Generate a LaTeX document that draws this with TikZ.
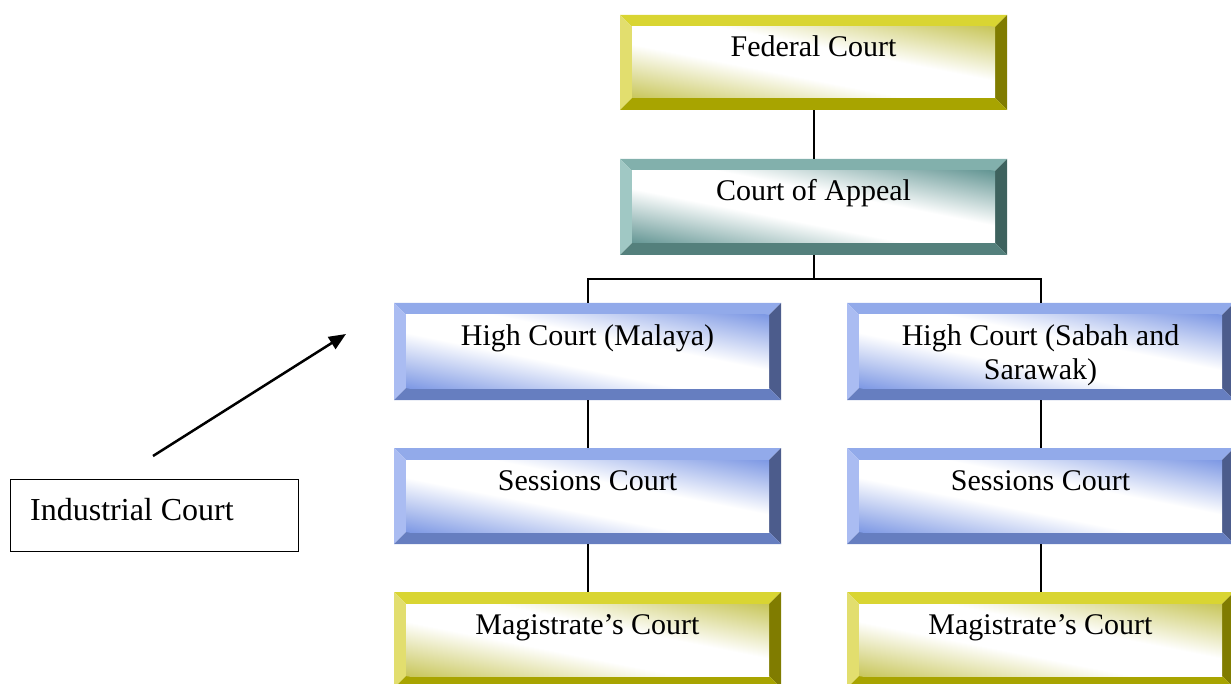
\documentclass[tikz,border=0pt]{standalone}
\usepackage{fontspec}
\setmainfont{Liberation Serif}
\usetikzlibrary{arrows.meta,fit}
\definecolor{yT}{RGB}{217,213,50}
\definecolor{yL}{RGB}{226,222,110}
\definecolor{yR}{RGB}{128,124,0}
\definecolor{yB}{RGB}{168,164,0}
\definecolor{yF}{RGB}{200,198,90}
\definecolor{tT}{RGB}{130,176,172}
\definecolor{tL}{RGB}{160,200,196}
\definecolor{tR}{RGB}{62,98,94}
\definecolor{tB}{RGB}{84,128,124}
\definecolor{tF}{RGB}{100,150,148}
\definecolor{bT}{RGB}{146,170,234}
\definecolor{bL}{RGB}{170,188,242}
\definecolor{bR}{RGB}{76,92,140}
\definecolor{bB}{RGB}{102,126,192}
\definecolor{bF}{RGB}{125,152,228}
\pgfdeclareverticalshading{yshade}{100bp}{color(0bp)=(yF); color(25bp)=(yF); color(44bp)=(white); color(56bp)=(white); color(75bp)=(yF); color(100bp)=(yF)}
\pgfdeclareverticalshading{tshade}{100bp}{color(0bp)=(tF); color(25bp)=(tF); color(44bp)=(white); color(56bp)=(white); color(75bp)=(tF); color(100bp)=(tF)}
\pgfdeclareverticalshading{bshade}{100bp}{color(0bp)=(bF); color(25bp)=(bF); color(44bp)=(white); color(56bp)=(white); color(75bp)=(bF); color(100bp)=(bF)}
\tikzset{
  courttext/.style={anchor=base, align=center, inner sep=0pt, font=\fontsize{30}{35}\selectfont},
  conn/.style={draw=black, line width=2pt},
}
\newcommand\CourtBox[8]{%
  \fill[#6T] (#2,#3) -- (#4,#3) -- (#4-12,#3+12) -- (#2+12,#3+12) -- cycle;
  \fill[#6L] (#2,#3) -- (#2+12,#3+12) -- (#2+12,#5-12) -- (#2,#5) -- cycle;
  \fill[#6R] (#4,#3) -- (#4,#5) -- (#4-12,#5-12) -- (#4-12,#3+12) -- cycle;
  \fill[#6B] (#2,#5) -- (#2+12,#5-12) -- (#4-12,#5-12) -- (#4,#5) -- cycle;
  \begin{scope}
    \clip (#2+12,#3+12) rectangle (#4-12,#5-12);
    \shade[shading=#6shade, transform canvas={shift={({(#2+#4)/2},{(#3+#5)/2})}, xscale={(#4-#2-24)*0.70711}, yscale={(#5-#3-24)*0.70711}, rotate=-45}] (-3,-1) rectangle (3,1);
  \end{scope}
  \node[fit={(#2,#3) (#4,#5)}, inner sep=0pt] (#1) {};
  \node[courttext] (#1-t) at ({(#2+#4)/2}, #3+42+#8) {#7};
}
\begin{document}
\begin{tikzpicture}[x=1pt, y=-1pt]
\useasboundingbox (0,0) rectangle (1231,684);
\CourtBox{fed}{620}{15}{1007}{110}{y}{Federal Court}{0}
\CourtBox{app}{620}{159}{1007}{255}{t}{Court of Appeal}{0}
\CourtBox{hcm}{394}{303}{781}{400}{b}{High Court (Malaya)}{0}
\CourtBox{hcs}{847}{303}{1234}{400}{b}{High Court (Sabah and\\Sarawak)}{35}
\CourtBox{scm}{394}{448}{781}{544}{b}{Sessions Court}{0}
\CourtBox{scs}{847}{448}{1234}{544}{b}{Sessions Court}{0}
\CourtBox{mcm}{394}{592}{781}{688}{y}{Magistrate’s Court}{0}
\CourtBox{mcs}{847}{592}{1234}{688}{y}{Magistrate’s Court}{0}
\draw[conn] (fed.south) -- (app.north);
\draw[conn] (app.south) -- ++(0,24) -| (hcm.north);
\draw[conn] (app.south) -- ++(0,24) -| (hcs.north);
\draw[conn] (hcm.south) -- (scm.north);
\draw[conn] (hcs.south) -- (scs.north);
\draw[conn] (scm.south) -- (mcm.north);
\draw[conn] (scs.south) -- (mcs.north);
\node[draw=black, line width=1pt, fit={(10,479) (298,551)}, inner sep=0pt] (ind) {};
\node[anchor=base west, inner sep=0pt, font=\fontsize{32}{37}\selectfont] (ind-t) at (30,520) {Industrial Court};
\coordinate (arS) at (153,456);
\coordinate (arE) at (346,334);
\draw[line width=2.5pt, -{Triangle[length=17pt,width=14pt]}] (arS) -- (arE);
\end{tikzpicture}
\end{document}
